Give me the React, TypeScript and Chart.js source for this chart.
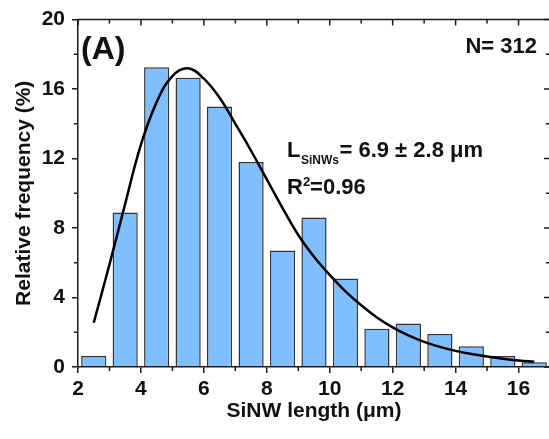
import React, { useEffect, useRef } from 'react';
import { Chart, registerables } from 'chart.js';

Chart.register(...registerables);

// Histogram bins (centres, µm) and relative frequency (%)
const binCenters = [2.5, 3.5, 4.5, 5.5, 6.5, 7.5, 8.5, 9.5, 10.5, 11.5, 12.5, 13.5, 14.5, 15.5, 16.5];
const frequencies = [0.63, 8.9, 17.25, 16.65, 15.0, 11.8, 6.7, 8.6, 5.1, 2.2, 2.5, 1.9, 1.2, 0.63, 0.27];

// Fitted distribution curve
const fitX = [2.5, 3, 3.5, 4, 4.5, 5, 5.5, 6, 6.5, 7, 7.5, 8, 8.5, 9, 9.5, 10, 10.5, 11, 11.5, 12, 12.5, 13, 13.5, 14, 14.5, 15, 15.5, 16, 16.5];
const fitY = [2.55, 5.9, 9.4, 12.8, 15.25, 16.75, 17.2, 16.6, 15.5, 14.0, 12.45, 10.8, 9.15, 7.6, 6.35, 5.3, 4.35, 3.55, 2.85, 2.28, 1.82, 1.45, 1.16, 0.93, 0.75, 0.6, 0.48, 0.38, 0.3];

// Axis ticks
const xMajorTicks = [2, 4, 6, 8, 10, 12, 14, 16];
const xMinorTicks = [3, 5, 7, 9, 11, 13, 15, 17];
const yMajorTicks = [0, 4, 8, 12, 16, 20];
const yMinorTicks = [2, 6, 10, 14, 18];

const FONT = '"Liberation Sans", Arial, sans-serif';
const AXIS = '#1a1a1a';
const BAR_FILL = 'rgb(128,191,255)';
const BAR_EDGE = '#333333';

const decorPlugin = {
  id: 'decor',
  afterDraw(chart: any) {
    const { ctx, chartArea: a, scales } = chart;
    const x = scales.x;
    const y = scales.y;
    ctx.save();
    ctx.strokeStyle = AXIS;
    ctx.lineWidth = 1.5;
    // top & right frame
    ctx.beginPath();
    ctx.moveTo(a.left, a.top);
    ctx.lineTo(a.right, a.top);
    ctx.lineTo(a.right, a.bottom);
    ctx.stroke();
    ctx.beginPath();
    for (const v of xMajorTicks) {
      const p = x.getPixelForValue(v);
      ctx.moveTo(p, a.top);
      ctx.lineTo(p, a.top + 6);
    }
    for (const v of xMinorTicks) {
      const p = x.getPixelForValue(v);
      ctx.moveTo(p, a.top);
      ctx.lineTo(p, a.top + 4);
      ctx.moveTo(p, a.bottom);
      ctx.lineTo(p, a.bottom + 4);
    }
    for (const v of yMajorTicks) {
      const p = y.getPixelForValue(v);
      ctx.moveTo(a.right, p);
      ctx.lineTo(a.right - 6, p);
    }
    for (const v of yMinorTicks) {
      const p = y.getPixelForValue(v);
      ctx.moveTo(a.right, p);
      ctx.lineTo(a.right - 4, p);
      ctx.moveTo(a.left, p);
      ctx.lineTo(a.left - 4, p);
    }
    ctx.stroke();

    // annotations
    ctx.fillStyle = '#111';
    ctx.textBaseline = 'alphabetic';
    const put = (s: string, px: number, py: number, size: number, align: CanvasTextAlign = 'left') => {
      ctx.font = `bold ${size}px ${FONT}`;
      ctx.textAlign = align;
      ctx.fillText(s, px, py);
      return ctx.measureText(s).width;
    };
    put('(A)', 81, 59, 32);
    put('N= 312', 537, 53, 22, 'right');
    let cx = 287;
    cx += put('L', cx, 157, 22);
    cx += put('SiNWs', cx + 0.5, 164, 12) + 1;
    put('= 6.9 \u00b1 2.8 \u03bcm', cx, 157, 22);
    cx = 287;
    cx += put('R', cx, 194, 22);
    cx += put('2', cx, 186, 13);
    put('=0.96', cx, 194, 22);
    ctx.restore();
  },
};

export default function App() {
  const ref = useRef<HTMLCanvasElement>(null);

  useEffect(() => {
    if (!ref.current) return;
    const chart = new Chart(ref.current, {
      type: 'bar',
      data: {
        datasets: [
          {
            type: 'line',
            data: fitX.map((v, i) => ({ x: v, y: fitY[i] })),
            borderColor: '#000',
            borderWidth: 2.5,
            pointRadius: 0,
            fill: false,
            tension: 0.4,
            order: 0,
          } as any,
          {
            type: 'bar',
            data: binCenters.map((v, i) => ({ x: v, y: frequencies[i] })),
            backgroundColor: BAR_FILL,
            borderColor: BAR_EDGE,
            borderWidth: 1.5,
            barPercentage: 0.8,
            categoryPercentage: 1.0,
            order: 1,
          } as any,
        ],
      },
      options: {
        responsive: false,
        animation: false,
        devicePixelRatio: 1,
        layout: { padding: { left: 0, right: 1, top: 17, bottom: 0 } },
        plugins: { legend: { display: false }, tooltip: { enabled: false } },
        scales: {
          x: {
            type: 'linear',
            min: 2,
            max: 17,
            offset: false,
            afterFit: (s: any) => { s.height = 72; },
            grid: { display: true, offset: false, drawOnChartArea: false, drawTicks: true, tickLength: 6, color: AXIS, lineWidth: 1.5 },
            border: { display: true, color: AXIS, width: 1.5 },
            ticks: {
              stepSize: 2,
              includeBounds: false,
              padding: 4,
              color: '#111',
              maxRotation: 0,
              font: { family: FONT, size: 21, weight: 'bold' },
            },
            title: {
              display: true,
              text: 'SiNW length (\u03bcm)',
              color: '#111',
              padding: { top: 0, bottom: 15 },
              font: { family: FONT, size: 21, weight: 'bold' },
            },
          },
          y: {
            type: 'linear',
            min: 0,
            max: 20,
            afterFit: (s: any) => { s.width = 78; },
            grid: { display: true, drawOnChartArea: false, drawTicks: true, tickLength: 6, color: AXIS, lineWidth: 1.5 },
            border: { display: true, color: AXIS, width: 1.5 },
            ticks: {
              stepSize: 4,
              padding: 7,
              color: '#111',
              font: { family: FONT, size: 21, weight: 'bold' },
            },
            title: {
              display: true,
              text: 'Relative frequency (%)',
              color: '#111',
              padding: { top: 12, bottom: 0 },
              font: { family: FONT, size: 21, weight: 'bold' },
            },
          },
        },
      } as any,
      plugins: [decorPlugin],
    });
    return () => chart.destroy();
  }, []);

  return (
    <div style={{ position: 'fixed', left: 0, top: 0, width: 549, height: 439, overflow: 'hidden', background: '#fff' }}>
      <canvas ref={ref} width={551} height={439} style={{ display: 'block', width: 551, height: 439 }} />
    </div>
  );
}
